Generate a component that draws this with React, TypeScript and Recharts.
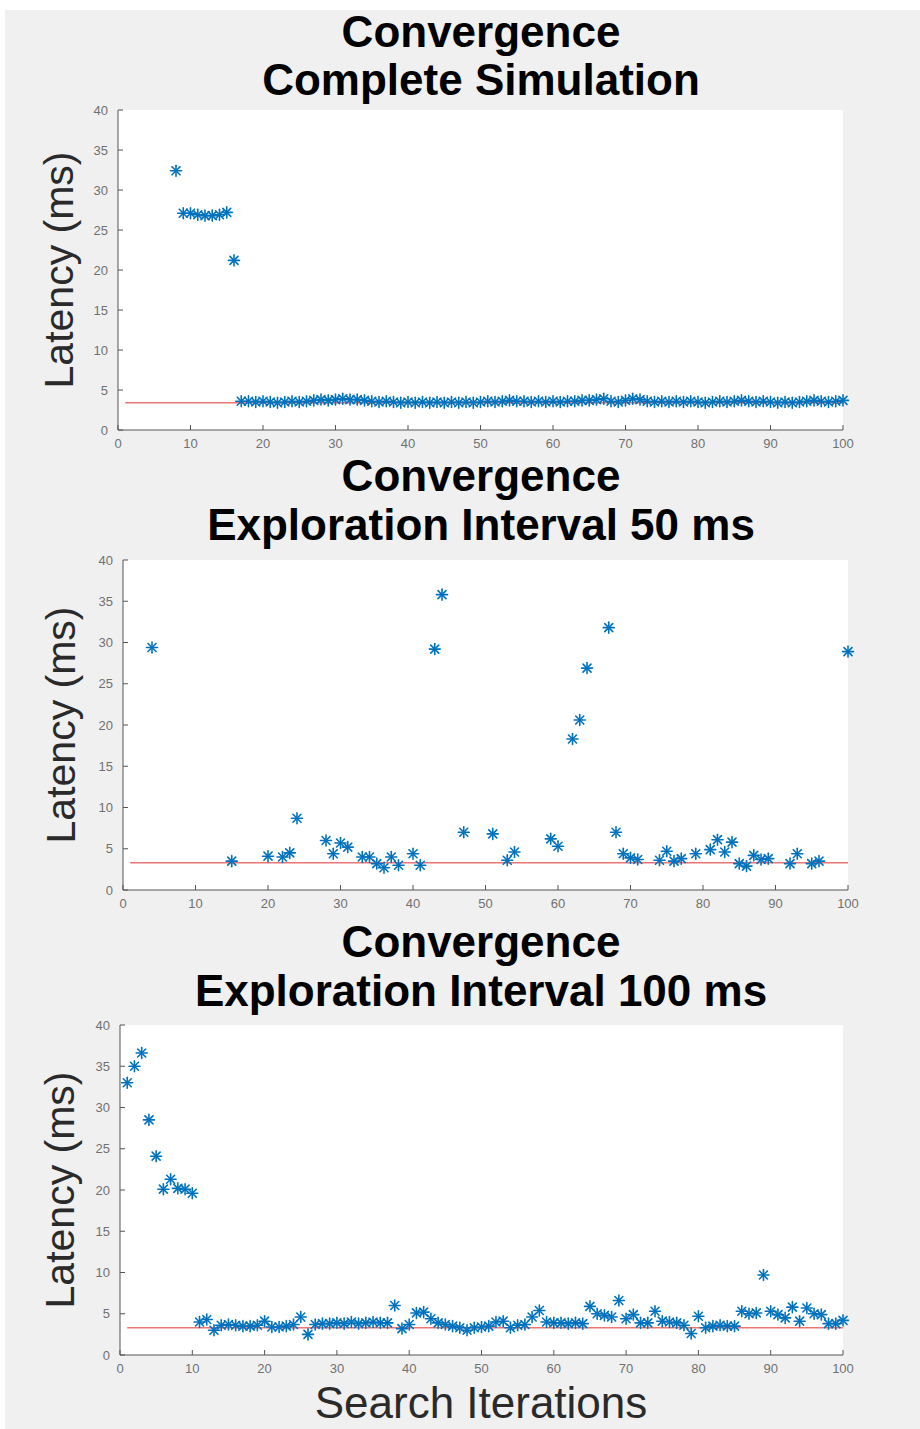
import React from "react";
import {
  ScatterChart,
  Scatter,
  XAxis,
  YAxis,
  CartesianGrid,
  ReferenceLine,
} from "recharts";

// iteration index 1..100 (x axis categories)
const iterations = Array.from({ length: 100 }, (_, i) => i + 1);

const xTicks = [0, 10, 20, 30, 40, 50, 60, 70, 80, 90, 100];
const yTicks = [0, 5, 10, 15, 20, 25, 30, 35, 40];

const titles = [
  "Complete Simulation",
  "Exploration Interval 50 ms",
  "Exploration Interval 100 ms",
];

// target latency (red line), one per panel
const targets = [3.4, 3.3, 3.3];

// latency per iteration, null = no sample drawn
const latencyComplete = [
  null, null, null, null, null, null, null, 32.4, 27.1, 27.1,
  26.9, 26.8, 26.8, 26.9, 27.2, 21.2, 3.6, 3.6, 3.5, 3.6,
  3.5, 3.4, 3.5, 3.6, 3.5, 3.6, 3.7, 3.8, 3.7, 3.8,
  3.9, 3.8, 3.8, 3.7, 3.6, 3.5, 3.6, 3.5, 3.4, 3.5,
  3.4, 3.5, 3.4, 3.5, 3.4, 3.5, 3.4, 3.5, 3.4, 3.5,
  3.6, 3.5, 3.6, 3.7, 3.6, 3.6, 3.5, 3.6, 3.5, 3.6,
  3.5, 3.6, 3.6, 3.7, 3.7, 3.8, 3.9, 3.6, 3.5, 3.7,
  3.9, 3.8, 3.6, 3.5, 3.6, 3.5, 3.6, 3.5, 3.6, 3.5,
  3.4, 3.5, 3.6, 3.5, 3.6, 3.7, 3.6, 3.5, 3.6, 3.5,
  3.4, 3.5, 3.4, 3.5, 3.6, 3.7, 3.6, 3.5, 3.6, 3.7,
];

const latency50 = [
  null, null, null, 29.4, null, null, null, null, null, null,
  null, null, null, null, 3.5, null, null, null, null, 4.1,
  null, 4.0, 4.5, 8.7, null, null, null, 6.0, 4.4, 5.7,
  5.2, null, 4.0, 4.0, 3.2, 2.7, 4.0, 3.0, null, 4.4,
  3.0, null, 29.2, 35.8, null, null, 7.0, null, null, null,
  6.8, null, 3.6, 4.6, null, null, null, null, 6.2, 5.3,
  null, 18.3, 20.6, 26.9, null, null, 31.8, 7.0, 4.4, 3.9,
  3.7, null, null, 3.6, 4.7, 3.5, 3.8, null, 4.4, null,
  4.9, 6.1, 4.6, 5.8, 3.2, 2.9, 4.2, 3.7, 3.8, null,
  null, 3.2, 4.4, null, 3.2, 3.5, null, null, null, 28.9,
];

const latency100 = [
  33.0, 35.0, 36.6, 28.5, 24.1, 20.1, 21.3, 20.2, 20.1, 19.6,
  4.0, 4.3, 3.0, 3.6, 3.7, 3.6, 3.5, 3.5, 3.6, 4.1,
  3.4, 3.4, 3.5, 3.7, 4.6, 2.5, 3.7, 3.8, 3.8, 3.9,
  3.8, 4.0, 3.8, 3.9, 4.0, 3.9, 3.9, 6.0, 3.2, 3.7,
  5.1, 5.2, 4.4, 3.9, 3.7, 3.5, 3.3, 3.0, 3.3, 3.4,
  3.5, 4.0, 4.1, 3.3, 3.6, 3.7, 4.6, 5.4, 4.0, 3.9,
  3.9, 3.8, 3.9, 3.8, 5.9, 5.0, 4.8, 4.6, 6.6, 4.4,
  4.9, 3.9, 3.9, 5.3, 4.1, 4.0, 3.9, 3.6, 2.6, 4.7,
  3.3, 3.5, 3.6, 3.5, 3.5, 5.3, 5.0, 5.1, 9.7, 5.3,
  4.9, 4.5, 5.8, 4.1, 5.7, 5.0, 4.9, 3.8, 3.8, 4.2,
];

const series = [latencyComplete, latency50, latency100];

// plot box of each panel in page pixels
const panels = [
  { left: 118, right: 843, top: 110, bottom: 430, t1: 47, t2: 95 },
  { left: 123, right: 848, top: 560, bottom: 890, t1: 491, t2: 540 },
  { left: 120, right: 843, top: 1025, bottom: 1355, t1: 957, t2: 1006 },
];

const FONT = "'Liberation Sans', Arial, Helvetica, sans-serif";
const BLUE = "#0072BD";

const Star = (props: any) => {
  const { cx, cy } = props;
  if (cx == null || cy == null) return null;
  const r = 5.5;
  const d = 4;
  return (
    <g stroke={BLUE} strokeWidth={1.6} strokeLinecap="round">
      <line x1={cx - r} y1={cy} x2={cx + r} y2={cy} />
      <line x1={cx} y1={cy - r} x2={cx} y2={cy + r} />
      <line x1={cx - d} y1={cy - d} x2={cx + d} y2={cy + d} />
      <line x1={cx - d} y1={cy + d} x2={cx + d} y2={cy - d} />
    </g>
  );
};

function Panel({ idx }: { idx: number }) {
  const p = panels[idx];
  const values = series[idx];
  const data = iterations
    .map((x, i) => ({ x, y: values[i] }))
    .filter((d) => d.y != null);
  const target = targets[idx];
  const h = p.bottom - p.top + 10 + 40;
  const tickStyle = { fill: "#707070", fontSize: 13, fontFamily: FONT };

  return (
    <div style={{ position: "absolute", left: 0, top: p.top - 10 }}>
      <ScatterChart
        width={920}
        height={h}
        margin={{ top: 10, right: 920 - p.right, bottom: 0, left: 0 }}
      >
        <CartesianGrid
          fill="#ffffff"
          stroke="none"
          horizontal={false}
          vertical={false}
        />
        <XAxis
          type="number"
          dataKey="x"
          domain={[0, 100]}
          ticks={xTicks}
          interval={0}
          height={40}
          tickSize={-5}
          tickMargin={14}
          tick={tickStyle}
          axisLine={{ stroke: "#555", strokeWidth: 1 }}
          tickLine={{ stroke: "#555" }}
        />
        <YAxis
          type="number"
          dataKey="y"
          domain={[0, 40]}
          ticks={yTicks}
          interval={0}
          width={p.left}
          tickSize={-5}
          tickMargin={15}
          tick={tickStyle}
          axisLine={{ stroke: "#555", strokeWidth: 1 }}
          tickLine={{ stroke: "#555" }}
          label={{
            value: "Latency (ms)",
            angle: -90,
            position: "center",
            dx: -1,
            style: { fill: "#2a2a2a", fontSize: 41, fontFamily: FONT },
          }}
        />
        <ReferenceLine
          segment={[
            { x: 1, y: target },
            { x: 100, y: target },
          ]}
          stroke="#ee7575"
          strokeWidth={1.5}
        />
        <Scatter data={data} shape={Star} isAnimationActive={false} />
      </ScatterChart>
    </div>
  );
}

export default function App() {
  return (
    <div
      style={{
        position: "absolute",
        left: 0,
        top: 0,
        width: 920,
        height: 1429,
        background: "#ffffff",
        overflow: "hidden",
      }}
    >
      <svg
        width={920}
        height={1429}
        style={{ position: "absolute", left: 0, top: 0 }}
      >
        <rect x={5} y={10} width={915} height={1419} fill="#f0f0f0" />
        {panels.map((p, i) => (
          <g
            key={i}
            fontFamily={FONT}
            fontWeight="bold"
            fontSize={44}
            fill="#000"
            textAnchor="middle"
          >
            <text x={481} y={p.t1}>
              Convergence
            </text>
            <text x={481} y={p.t2}>
              {titles[i]}
            </text>
          </g>
        ))}
        <text
          x={481}
          y={1418}
          textAnchor="middle"
          fontFamily={FONT}
          fontSize={44}
          fill="#2a2a2a"
        >
          Search Iterations
        </text>
      </svg>
      {panels.map((_, i) => (
        <Panel key={i} idx={i} />
      ))}
    </div>
  );
}
